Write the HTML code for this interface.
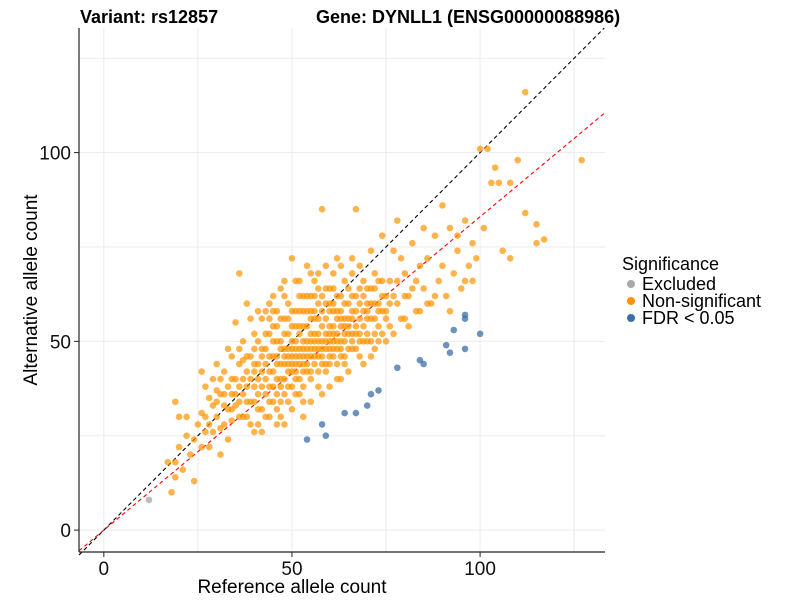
<!DOCTYPE html>
<html><head><meta charset="utf-8"><style>
body{margin:0;background:#fff;font-family:"Liberation Sans",sans-serif}
</style></head><body>
<svg id="c" width="800" height="600" xmlns="http://www.w3.org/2000/svg">
<text x="80" y="23" font-size="18" font-weight="bold">Variant: rs12857</text>
<text x="316" y="23" font-size="18" font-weight="bold">Gene: DYNLL1 (ENSG00000088986)</text>
<g id="grid"></g>
<g id="lines"></g>
<g id="pts"></g>
<line x1="79" y1="28" x2="79" y2="552" stroke="#222" stroke-width="1.2"/>
<line x1="79" y1="552" x2="605" y2="552" stroke="#222" stroke-width="1.2"/>
<g id="ticks"></g>
<text x="292" y="593" font-size="19" text-anchor="middle">Reference allele count</text>
<text transform="translate(37,290) rotate(-90)" font-size="19" text-anchor="middle">Alternative allele count</text>
<g>
<text x="622" y="270" font-size="18">Significance</text>
<circle cx="631" cy="284" r="4" fill="#aaaaaa"/>
<text x="642" y="290" font-size="18">Excluded</text>
<circle cx="631" cy="301" r="4" fill="#ff9300"/>
<text x="642" y="307" font-size="18">Non-significant</text>
<circle cx="631" cy="318" r="4" fill="#3b6fa8"/>
<text x="642" y="324" font-size="18">FDR &lt; 0.05</text>
</g>
</svg>
<script>
const xTicks=[0,50,100];
const yTicks=[0,50,100];
const minorTicks=[25,75,125];
const regSlope=0.83;
const excluded=[[12,8]];
const significant=[[96,57],[96,56],[93,53],[100,52],[91,49],[92,47],[96,48],[84,45],[85,44],[78,43],[73,37],[71,36],[70,33],[67,31],[64,31],[58,28],[54,24],[59,25]];
const nonsig=[[18,10],[19,14],[19,18],[20,22],[21,16],[22,25],[23,20],[24,13],[25,28],[22,30],[19,34],[20,30],[17,18],[24,24],[26,22],
[26,31],[27,26],[28,35],[28,22],[29,40],[30,30],[30,44],[31,27],[31,36],[32,33],[33,38],[33,24],[34,46],[34,29],[35,40],[27,38],[29,33],[32,42],[26,42],[30,37],[35,33],[33,48],[28,28],[31,20],[34,36],
[36,68],[36,44],[36,38],[37,30],[37,50],[38,42],[38,34],[39,46],[39,28],[40,52],[40,38],[41,36],[41,44],[42,56],[42,32],[43,48],[43,40],[44,60],[44,34],[45,46],[45,38],[35,55],[37,45],[39,56],[40,26],[41,50],[42,42],[43,30],[44,52],[45,54],[38,60],[36,48],[40,44],[42,48],[44,42],
[46,58],[46,40],[47,50],[47,34],[48,44],[48,62],[49,48],[49,38],[50,54],[50,42],[51,66],[51,46],[52,36],[52,52],[53,58],[53,44],[54,48],[54,70],[55,40],[55,56],[46,28],[47,44],[48,52],[49,60],[50,32],[51,40],[52,62],[53,38],[54,54],[55,46],[46,50],[48,36],[50,48],[52,44],[54,42],[47,64],[49,42],[51,54],[53,50],[55,62],[45,62],[50,72],[53,30],[48,28],[55,34],
[56,52],[56,44],[57,60],[57,38],[58,85],[58,48],[59,56],[59,42],[60,64],[60,50],[61,46],[61,58],[62,72],[62,40],[63,54],[63,48],[64,66],[64,44],[65,52],[65,60],[56,66],[57,50],[58,36],[59,70],[60,44],[61,52],[62,56],[63,62],[64,50],[65,42],[57,46],[59,48],[61,64],[63,40],[56,58],[58,54],[60,58],[62,48],[64,56],[60,38],
[66,56],[66,48],[67,85],[67,62],[68,52],[68,70],[69,58],[69,44],[70,64],[70,50],[71,56],[71,74],[72,60],[72,48],[73,66],[73,54],[74,58],[74,78],[75,62],[75,50],[66,68],[68,46],[70,56],[72,68],[74,52],[67,52],[69,66],[71,46],[73,60],[75,56],
[76,66],[76,54],[77,74],[78,60],[78,82],[79,56],[80,68],[81,62],[82,76],[83,58],[84,70],[85,64],[77,52],[79,72],[81,54],[83,66],[85,80],[80,56],[82,64],[84,58],
[86,72],[87,60],[88,78],[89,66],[90,70],[91,62],[92,80],[93,68],[94,74],[95,64],[96,82],[97,70],[98,76],[99,72],[100,101],[88,62],[90,86],[92,58],[94,78],[96,66],[98,66],[86,60],
[102,101],[104,96],[110,98],[103,92],[105,92],[108,92],[112,84],[115,81],[117,77],[115,76],[127,98],[112,116],[101,80],[106,74],[108,72],
[34,32],[35,36],[36,34],[37,40],[37,36],[38,38],[38,46],[39,40],[39,34],[40,42],[40,34],[40,48],[41,40],[41,32],[42,38],[42,46],[43,36],[43,44],[43,52],[44,38],[44,46],[44,56],[45,42],[45,34],[45,50],
[46,36],[46,44],[46,46],[46,54],[47,38],[47,40],[47,48],[47,56],[48,40],[48,46],[48,48],[48,56],[49,44],[49,46],[49,52],[49,56],[50,38],[50,44],[50,46],[50,50],[50,58],[51,42],[51,44],[51,48],[51,50],[51,58],[52,40],[52,46],[52,48],[52,54],[52,58],
[53,42],[53,46],[53,48],[53,54],[53,62],[54,44],[54,46],[54,50],[54,58],[54,62],[55,42],[55,48],[55,50],[55,52],[55,58],[56,46],[56,48],[56,50],[56,56],[56,62],[57,42],[57,48],[57,52],[57,56],[57,64],[58,44],[58,46],[58,50],[58,58],[58,62],
[59,44],[59,50],[59,52],[59,60],[59,64],[60,46],[60,48],[60,52],[60,54],[60,60],[61,48],[61,50],[61,54],[61,60],[62,44],[62,50],[62,52],[62,58],[62,62],[63,46],[63,50],[63,56],[63,58],[64,46],[64,52],[64,54],[64,60],[65,48],[65,54],[65,56],[65,64],
[66,50],[66,52],[66,58],[66,62],[67,48],[67,54],[67,58],[68,50],[68,56],[68,60],[68,64],[69,50],[69,54],[69,62],[70,52],[70,58],[70,60],[71,50],[71,60],[71,64],[72,52],[72,56],[72,64],[73,50],[73,58],[74,62],[74,66],[75,58],[76,60],[77,62],[78,66],[80,62],
[36,30],[38,30],[41,28],[42,26],[44,30],[46,32],[47,30],[49,34],[51,36],[53,34],[41,58],[43,58],[45,58],[48,66],[52,66],[55,68],[57,68],[61,68],[63,70],[66,72],[30,34],[32,28],[32,36],[29,26],[27,30],[31,40],[33,32],[34,40]];
const NS='http://www.w3.org/2000/svg';
const xMin=-6.6,xMax=133.2,yMin=-5.8,yMax=133;
const X=v=>79+(v-xMin)/(xMax-xMin)*526;
const Y=v=>552-(v-yMin)/(yMax-yMin)*524;
function mk(t,a,p){const e=document.createElementNS(NS,t);for(const k in a)e.setAttribute(k,a[k]);p.appendChild(e);return e;}
const grid=document.getElementById('grid');
[...xTicks,...minorTicks].forEach(v=>{const l=mk('line',{x1:X(v),x2:X(v),y1:28,y2:552,stroke:'#ebebeb','stroke-width':1},grid);

});
[...yTicks,...minorTicks].forEach(v=>{const l=mk('line',{x1:79,x2:605,y1:Y(v),y2:Y(v),stroke:'#ebebeb','stroke-width':1},grid);

});
const lines=document.getElementById('lines');
const d=mk('line',{x1:X(xMin),y1:Y(xMin),x2:X(yMax),y2:Y(yMax),stroke:'#000','stroke-width':1.1,'stroke-dasharray':'4,3'},lines);


const r=mk('line',{x1:X(xMin),y1:Y(xMin*regSlope),x2:X(xMax),y2:Y(xMax*regSlope),stroke:'#ff0000','stroke-width':1.1,'stroke-dasharray':'4,3'},lines);


const pts=document.getElementById('pts');
nonsig.forEach(p=>{const c=mk('circle',{cx:X(p[0]),cy:Y(p[1]),r:3.3,fill:'#ff9300','fill-opacity':0.7},pts);

});
significant.forEach(p=>{const c=mk('circle',{cx:X(p[0]),cy:Y(p[1]),r:3.3,fill:'#3b6fa8','fill-opacity':0.75},pts);

});
excluded.forEach(p=>{const c=mk('circle',{cx:X(p[0]),cy:Y(p[1]),r:3.3,fill:'#aaaaaa','fill-opacity':0.8},pts);

});
const tk=document.getElementById('ticks');
xTicks.forEach(v=>{const l=mk('line',{x1:X(v),x2:X(v),y1:552,y2:557,stroke:'#222'},tk);


const t=mk('text',{x:X(v),y:575,'font-size':19,'text-anchor':'middle',fill:'#111'},tk);t.textContent=v;

});
yTicks.forEach(v=>{const l=mk('line',{x1:74,x2:79,y1:Y(v),y2:Y(v),stroke:'#222'},tk);


const t=mk('text',{x:71,y:Y(v)+7,'font-size':19,'text-anchor':'end',fill:'#111'},tk);t.textContent=v;

});
</script>
</body></html>
